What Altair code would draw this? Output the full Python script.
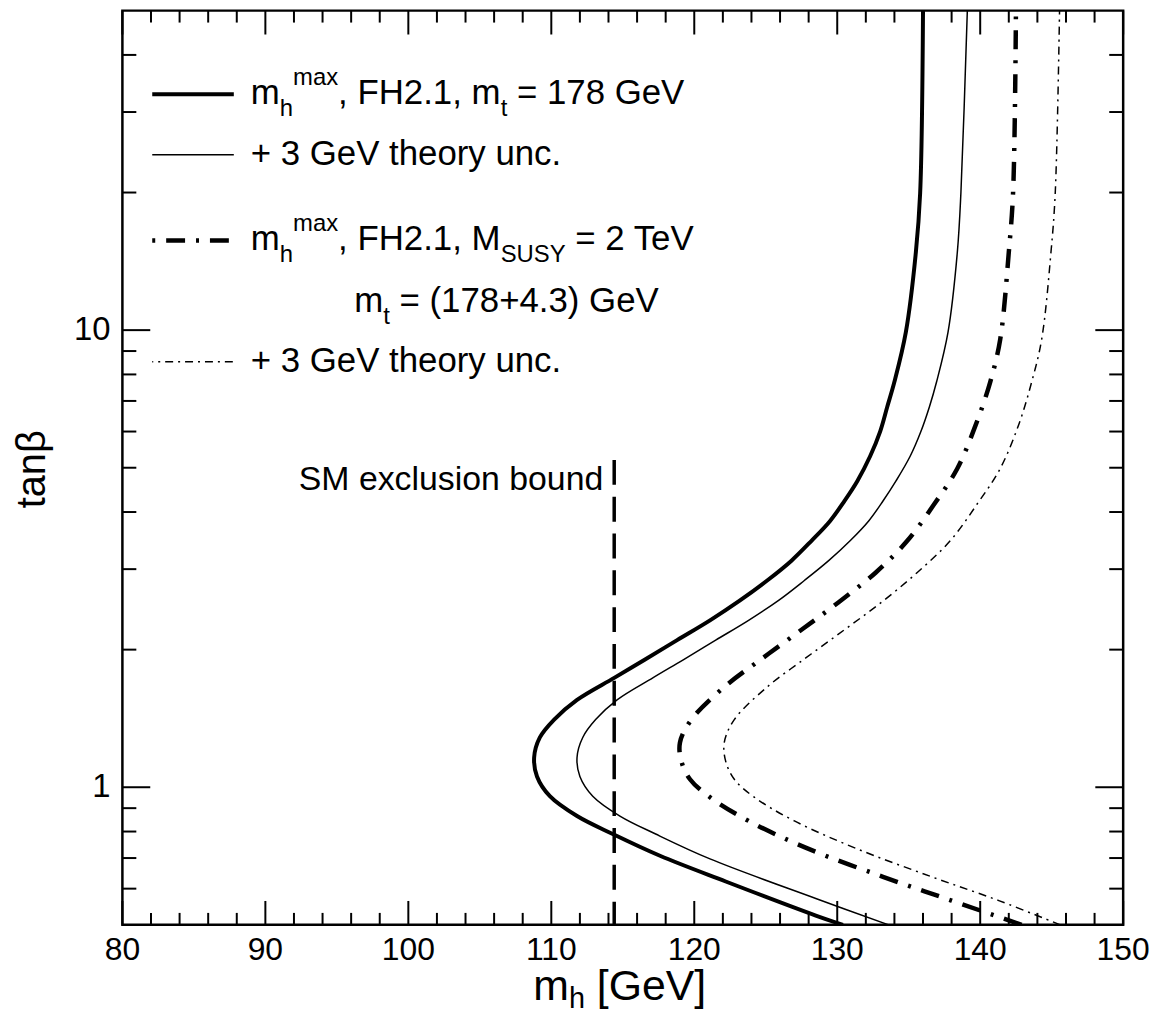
import altair as alt
import pandas as pd

# ---------------- data ----------------
# thick solid: mh^max, FH2.1, mt = 178 GeV
tb_a = [0.5, 0.524, 0.622, 0.708, 0.79, 0.865, 0.956, 1.056, 1.162, 1.285, 1.406, 1.553,
        1.735, 1.898, 2.098, 2.318, 2.563, 2.833, 3.131, 3.461, 3.825, 4.228, 4.673, 5.297,
        6.0, 6.8, 7.71, 9.9, 14.8, 19.95, 50]
mh_a = [130.4, 128.5, 122.2, 117.6, 114.3, 111.8, 109.9, 109.0, 108.8, 109.2, 110.2, 111.8,
        114.4, 116.5, 118.8, 121.1, 123.2, 125.1, 126.8, 128.2, 129.5, 130.5, 131.4, 132.3,
        133.0, 133.5, 134.0, 134.8, 135.5, 135.8, 136.0]
# thin solid: + 3 GeV theory unc.
tb_b = [0.5, 0.571, 0.697, 0.79, 0.865, 0.956, 1.056, 1.162, 1.285, 1.406, 1.553, 1.735,
        1.898, 2.098, 2.318, 2.563, 2.833, 3.131, 3.461, 3.825, 4.228, 4.673, 5.297, 6.0,
        6.8, 7.71, 9.9, 14.8, 19.95, 50]
mh_b = [133.6, 128.5, 121.1, 117.3, 114.8, 112.9, 112.0, 111.8, 112.2, 113.1, 114.6, 117.1,
        119.2, 121.5, 123.8, 125.9, 127.7, 129.4, 130.9, 132.2, 133.2, 134.1, 135.1, 135.85,
        136.45, 136.95, 137.75, 138.4, 138.65, 139.1]
# thick dash-dot: MSUSY = 2 TeV, mt = (178+4.3) GeV
tb_c = [0.5, 0.565, 0.637, 0.733, 0.844, 0.951, 1.041, 1.139, 1.253, 1.406, 1.657, 1.918,
        2.21, 2.54, 2.95, 3.46, 4.17, 4.98, 6.22, 7.7, 9.55, 14.8, 20, 50]
mh_c = [142.9, 138.0, 133.2, 128.0, 123.8, 121.1, 119.7, 119.1, 119.0, 119.8, 122.1, 124.8,
        127.5, 130.1, 132.7, 134.9, 136.8, 138.4, 139.7, 140.7, 141.4, 142.0, 142.3, 142.5]
# thin dash-dot: + 3 GeV theory unc.
tb_d = [0.5, 0.565, 0.637, 0.733, 0.844, 0.951, 1.041, 1.139, 1.253, 1.406, 1.657, 1.918,
        2.21, 2.54, 2.95, 3.46, 4.17, 4.98, 6.22, 7.7, 9.55, 14.8, 20, 50]
mh_d = [145.6, 141.3, 136.6, 131.4, 127.0, 124.2, 122.8, 122.2, 122.1, 122.8, 125.1, 127.8,
        130.5, 133.1, 135.6, 137.9, 139.8, 141.4, 142.7, 143.6, 144.3, 144.95, 145.25, 145.55]

sm_bound = [114.4]
sm_range = [0.5, 5.2]

x_major = [80, 90, 100, 110, 120, 130, 140, 150]
x_minor = [v for v in range(82, 150, 2) if v % 10 != 0]
y_major = [1, 10]
y_minor = [0.6, 0.7, 0.8, 0.9, 2, 3, 4, 5, 6, 7, 8, 9, 20, 30, 40]

# ---------------- layout ----------------
FONT = "Liberation Sans"
W, H = 1006, 919
xs = alt.Scale(domain=[80, 150], nice=False, zero=False)
ys = alt.Scale(type="log", domain=[0.5, 50], nice=False)

AW = {' ': 278, '+': 584, '=': 584, '(': 333, ')': 333, ',': 278, '.': 278, 'F': 611, 'H': 722,
      'G': 778, 'M': 833, 'S': 667, 'U': 722, 'Y': 667, 'T': 611, 'V': 667, 'a': 556, 'c': 500,
      'e': 556, 'h': 556, 'm': 833, 'n': 556, 'o': 556, 'r': 333, 't': 278, 'u': 556, 'x': 500,
      'y': 500, '[': 278, ']': 278}


def tw(s, size):
    return sum(AW.get(c, 556) for c in s) * size / 1000.0


def text_layer(txt, x, y, size, **kw):
    lead = len(txt) - len(txt.lstrip(' '))
    x = x + tw(' ' * lead, size)
    return alt.Chart(pd.DataFrame({'t': [txt.lstrip(' ')]})).mark_text(
        align=kw.pop('align', 'left'), baseline='alphabetic', font=FONT, fontSize=size,
        color='black', **kw).encode(x=alt.value(x), y=alt.value(y), text='t:N')


def rich(x0, base, segs, main=35, small=24, sup=-19, sub=12):
    out = []
    x = x0
    for s, kind in segs:
        if kind == 'n':
            out.append(text_layer(s, x, base, main))
            x += tw(s, main)
        elif kind == 'sub':
            out.append(text_layer(s, x, base + sub, small))
            x += tw(s, small)
        else:
            out.append(text_layer(s, x, base + sup, small))
            x += tw(s, small)
    return out


layers = []


def curve(tb, mh, width, dash=None):
    df = pd.DataFrame({'tb': tb, 'mh': mh})
    kw = dict(color='black', strokeWidth=width, interpolate='catmull-rom', clip=True)
    if dash:
        kw['strokeDash'] = dash
    return alt.Chart(df).mark_line(**kw).encode(
        x=alt.X('mh:Q', scale=xs, axis=None),
        y=alt.Y('tb:Q', scale=ys, axis=None),
        order=alt.Order('tb:Q'))


DD_THICK = [19, 11, 3, 11]
DD_THIN = [8, 5, 2, 5]

layers.append(curve(tb_a, mh_a, 4))
layers.append(curve(tb_b, mh_b, 1.5))
layers.append(curve(tb_c, mh_c, 4.5, DD_THICK))
layers.append(curve(tb_d, mh_d, 1.5, DD_THIN))

# SM exclusion bound
sm_df = pd.DataFrame({'mh': sm_bound, 'lo': [sm_range[0]], 'hi': [sm_range[1]],
                      'label': ['SM exclusion bound']})
layers.append(alt.Chart(sm_df).mark_rule(color='black', strokeWidth=3.5, strokeDash=[25, 12]).encode(
    x=alt.X('mh:Q', scale=xs, axis=None),
    y=alt.Y('hi:Q', scale=ys, axis=None),
    y2='lo:Q'))
layers.append(alt.Chart(sm_df).mark_text(align='right', baseline='alphabetic', font=FONT,
                                         fontSize=34, dx=-11, color='black').encode(
    x=alt.X('mh:Q', scale=xs, axis=None), y=alt.value(482), text='label:N'))


# ticks (inward, all four sides)
def xticks(vals, ln):
    df = pd.DataFrame({'v': vals})
    b = alt.Chart(df).mark_rule(color='black', strokeWidth=2).encode(
        x=alt.X('v:Q', scale=xs, axis=None), y=alt.value(H), y2=alt.value(H - ln))
    t = alt.Chart(df).mark_rule(color='black', strokeWidth=2).encode(
        x=alt.X('v:Q', scale=xs, axis=None), y=alt.value(0), y2=alt.value(ln))
    return [b, t]


def yticks(vals, ln):
    df = pd.DataFrame({'v': vals})
    l = alt.Chart(df).mark_rule(color='black', strokeWidth=2).encode(
        y=alt.Y('v:Q', scale=ys, axis=None), x=alt.value(0), x2=alt.value(ln))
    r = alt.Chart(df).mark_rule(color='black', strokeWidth=2).encode(
        y=alt.Y('v:Q', scale=ys, axis=None), x=alt.value(W), x2=alt.value(W - ln))
    return [l, r]


layers += xticks(x_major, 24) + xticks(x_minor, 12) + yticks(y_major, 28) + yticks(y_minor, 14)

# tick labels
xl = pd.DataFrame({'v': x_major, 'lab': [str(v) for v in x_major]})
layers.append(alt.Chart(xl).mark_text(align='center', baseline='top', font=FONT, fontSize=32,
                                      color='black').encode(
    x=alt.X('v:Q', scale=xs, axis=None), y=alt.value(H + 10), text='lab:N'))
yl = pd.DataFrame({'v': y_major, 'lab': [str(v) for v in y_major]})
layers.append(alt.Chart(yl).mark_text(align='right', baseline='middle', font=FONT, fontSize=33,
                                      color='black').encode(
    y=alt.Y('v:Q', scale=ys, axis=None), x=alt.value(-12), text='lab:N'))

# legend sample lines
one = pd.DataFrame({'k': [0]})


def sample(y, width, dash=None, offset=None):
    kw = dict(color='black', strokeWidth=width)
    if dash:
        kw['strokeDash'] = dash
    if offset is not None:
        kw['strokeDashOffset'] = offset
    return alt.Chart(one).mark_rule(**kw).encode(x=alt.value(30), x2=alt.value(112), y=alt.value(y))


layers.append(sample(84, 4))
layers.append(sample(145, 1.5))
layers.append(sample(231, 4.5, DD_THICK, 30))
layers.append(sample(353, 1.5, DD_THIN, 7))

# legend texts
layers += rich(129, 94, [('m', 'n'), ('h', 'sub'), ('max', 'sup'), (', FH2.1, m', 'n'),
                         ('t', 'sub'), (' = 178 GeV', 'n')])
layers += rich(129, 155, [('+ 3 GeV theory unc.', 'n')])
layers += rich(129, 241, [('m', 'n'), ('h', 'sub'), ('max', 'sup'), (', FH2.1, M', 'n'),
                          ('SUSY', 'sub'), (' = 2 TeV', 'n')])
layers += rich(233, 303, [('m', 'n'), ('t', 'sub'), (' = (178+4.3) GeV', 'n')])
layers += rich(129, 363, [('+ 3 GeV theory unc.', 'n')])

# axis titles
layers += rich(413, 995, [('m', 'n'), ('h', 'sub'), (' [GeV]', 'n')], main=43, small=29, sub=8)
layers.append(text_layer('tanβ', -78, 461, 40, align='center', angle=270))

chart = alt.layer(*layers).properties(
    width=W, height=H,
    autosize=alt.AutoSizeParams(type='none'),
    padding={'left': 115, 'top': 0, 'right': 32, 'bottom': 90},
).configure_view(stroke='black', strokeWidth=2.5)

chart.save("out.html", embed_options={"renderer": "svg", "actions": False})
